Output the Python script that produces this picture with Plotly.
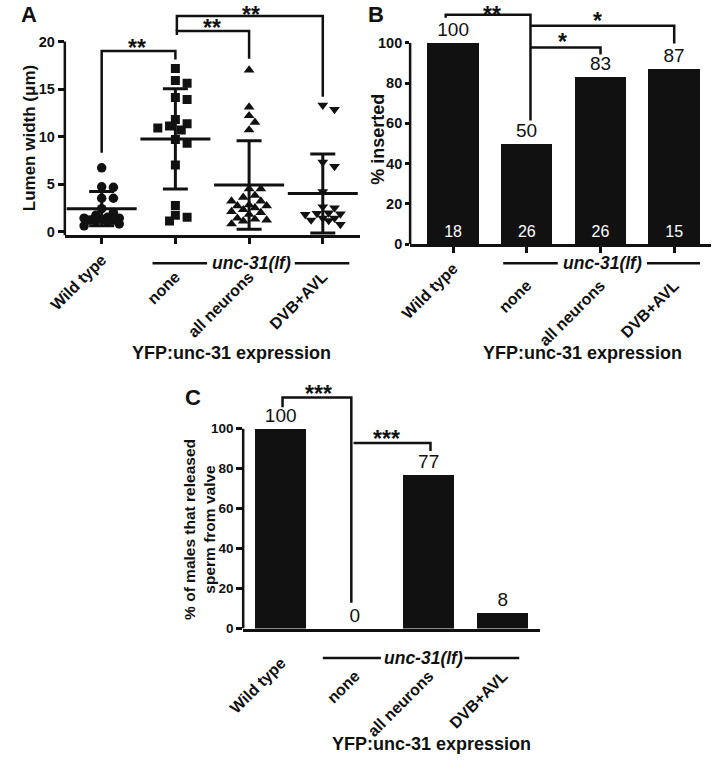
import numpy as np
import plotly.graph_objects as go

FONT = "Liberation Sans, Arial, sans-serif"
INK = "#111111"
W, H = 714, 761

# ---------------- data ----------------
groups = ["Wild type", "none", "all neurons", "DVB+AVL"]
symbols = ["circle", "square", "triangle-up", "triangle-down"]

wt_width = [6.7, 4.65, 4.7, 3.5, 3.5, 2.4, 2.0, 1.7, 1.5, 1.4, 1.4, 1.3, 1.2, 1.2, 1.1, 1.0, 0.8, 0.6]
none_width = [17.15, 15.9, 15.6, 14.1, 13.9, 11.8, 11.35, 11.1, 10.9, 10.7, 9.7, 9.3, 7.0, 2.75, 1.7, 1.5, 1.1]
alln_width = [17.0, 13.1, 12.2, 11.5, 10.7, 4.5, 4.5, 3.8, 3.6, 3.2, 3.2, 2.8, 2.7, 2.7, 2.5, 2.3,
              2.1, 2.0, 1.8, 1.4, 1.3, 1.2, 1.1, 0.8]
dvb_width = [13.3, 12.85, 7.3, 6.85, 4.2, 2.6, 2.5, 1.95, 1.9, 1.85, 1.8, 1.4, 1.4, 1.2, 1.15, 0.75]
width_mean = [2.4, 9.75, 4.9, 4.0]
width_sd = [1.8, 5.27, 4.65, 4.16]
yA_ticks = [0, 5, 10, 15, 20]

inserted_pct = [100, 50, 83, 87]
inserted_n = [18, 26, 26, 15]
yB_ticks = [0, 20, 40, 60, 80, 100]

released_pct = [100, 0, 77, 8]
released_n = [18, 13, 22, 13]
yC_ticks = [0, 20, 40, 60, 80, 100]

sig_A = ["**", "**", "**"]
sig_B = ["**", "*", "*"]
sig_C = ["***", "***"]


def P(x, y):
    return x / W, 1 - y / H


def swarm(vals, ppu, ppc, diam=7.5, step=6.0, nmax=3):
    placed, offs = [], [0.0] * len(vals)
    order = sorted(range(len(vals)), key=lambda i: -vals[i])
    cands = [0.0] + [s * j * step for j in range(1, nmax + 1) for s in (1, -1)]
    for i in order:
        y = vals[i] * ppu
        best, bestd = 0.0, -1
        for c in cands:
            d = min([((c - px) ** 2 + (y - py) ** 2) ** 0.5 for px, py in placed] or [1e9])
            if d >= diam:
                best = c
                break
            if d > bestd:
                best, bestd = c, d
        placed.append((best, y))
        offs[i] = best / ppc
    return offs


fig = go.Figure()

# ---------------- Panel A ----------------
all_width = [wt_width, none_width, alln_width, dvb_width]
for gi, vals in enumerate(all_width):
    offs = swarm(vals, 9.6, 75.5)
    fig.add_trace(go.Scatter(
        x=[gi + o for o in offs], y=vals, mode="markers", xaxis="x", yaxis="y",
        marker=dict(symbol=symbols[gi], size=9.5 if gi != 1 else 9, color=INK, line=dict(width=0)),
        showlegend=False, hoverinfo="y"))
fig.add_trace(go.Scatter(
    x=list(range(4)), y=width_mean, mode="markers", xaxis="x", yaxis="y",
    marker=dict(symbol="line-ew", size=50, line=dict(width=3, color=INK)),
    error_y=dict(type="data", array=width_sd, visible=True, thickness=3, width=12.5, color=INK),
    showlegend=False))

# ---------------- Panel B ----------------
fig.add_trace(go.Bar(
    x=list(range(4)), y=inserted_pct, xaxis="x2", yaxis="y2", width=0.7,
    marker=dict(color=INK, line=dict(width=0)),
    text=[str(v) for v in inserted_pct], textposition="outside", cliponaxis=False,
    textfont=dict(family=FONT, size=19, color=INK), showlegend=False))
fig.add_trace(go.Scatter(
    x=list(range(4)), y=[5.3] * 4, mode="text", xaxis="x2", yaxis="y2",
    text=[str(v) for v in inserted_n], textfont=dict(family=FONT, size=16, color="white"),
    showlegend=False, hoverinfo="skip"))

# ---------------- Panel C ----------------
fig.add_trace(go.Bar(
    x=list(range(4)), y=released_pct, xaxis="x3", yaxis="y3", width=0.69,
    marker=dict(color=INK, line=dict(width=0)),
    text=[str(v) for v in released_pct], textposition="outside", cliponaxis=False,
    textfont=dict(family=FONT, size=19, color=INK), showlegend=False))

# empty traces so the overlay label axes exist
for xa, ya in [("x4", "y"), ("x5", "y2"), ("x6", "y3")]:
    fig.add_trace(go.Scatter(x=[], y=[], xaxis=xa, yaxis=ya, showlegend=False, hoverinfo="skip"))

# ---------------- axes ----------------
xtickfont = dict(family=FONT, size=16, color=INK, weight="bold")


def xax(domain, anchor, rng, ticks=True):
    d = dict(domain=domain, anchor=anchor, range=rng, tickvals=list(range(4)),
             ticktext=[groups[0], "", "", ""],
             tickangle=-45, tickfont=xtickfont, showline=True, linewidth=2.5, linecolor=INK,
             showgrid=False, zeroline=False, fixedrange=True)
    if ticks:
        d.update(ticks="outside", ticklen=6, tickwidth=2.5, tickcolor=INK)
    else:
        d.update(ticks="", ticklabelstandoff=16)
    return d


def xlab(over, anchor, rng, standoff):
    return dict(overlaying=over, anchor=anchor, range=rng, tickvals=[1, 2, 3], ticktext=groups[1:],
                tickangle=-45, tickfont=xtickfont, showline=False, ticks="", side="bottom",
                ticklabelstandoff=standoff, showgrid=False, zeroline=False, fixedrange=True)


def yax(domain, anchor, rng, tv, fs=14.5, tl=6):
    return dict(domain=domain, anchor=anchor, range=rng, tickvals=tv,
                tickfont=dict(family=FONT, size=fs, color=INK, weight="bold"),
                ticks="outside", ticklen=tl, tickwidth=2.5, tickcolor=INK,
                showline=False, showgrid=False, zeroline=False, fixedrange=True)


rA, rB, rC = [-0.5, 3.5], [-0.583, 3.5], [-0.512, 3.5]
fig.update_layout(
    width=W, height=H, margin=dict(l=0, r=0, t=0, b=0),
    paper_bgcolor="white", plot_bgcolor="rgba(0,0,0,0)",
    font=dict(family=FONT, color=INK),
    bargap=0,
    xaxis=xax([49 / W, 351 / W], "y", rA),
    yaxis=yax([1 - 238 / H, 1 - 8 / H], "x", [-0.42, 23.54], yA_ticks),
    xaxis2=xax([402.7 / W, 711 / W], "y2", rB),
    yaxis2=yax([1 - 246.7 / H, 1 - 5 / H], "x2", [0, 118.9], yB_ticks, tl=4),
    xaxis3=xax([231.7 / W, 535.7 / W], "y3", rC, ticks=False),
    yaxis3=yax([1 - 635.3 / H, 1 - 390 / H], "x3", [0, 121.4], yC_ticks, fs=13.5),
    xaxis4=xlab("x", "y", rA, 28),
    xaxis5=xlab("x2", "y2", rB, 28),
    xaxis6=xlab("x3", "y3", rC, 34),
)

shapes = []
annos = []
LW = 2.5

# y axis lines (only up to top tick)
for xr, yr, lo, hi in [("x domain", "y", -0.42, yA_ticks[-1]),
                       ("x2 domain", "y2", 0, yB_ticks[-1]),
                       ("x3 domain", "y3", 0, yC_ticks[-1])]:
    shapes.append(dict(type="line", xref=xr, yref=yr, x0=0, x1=0, y0=lo, y1=hi,
                       line=dict(color=INK, width=LW)))


def bracket(xr, yr, pts):
    path = "M " + " L ".join(f"{x},{y}" for x, y in pts)
    shapes.append(dict(type="path", xref=xr, yref=yr, path=path, line=dict(color=INK, width=LW)))


def stars(xr, yr, x, y, t, size=23, top=False):
    a = dict(xref=xr, yref=yr, x=x, y=y, text=f"<b>{t}</b>", showarrow=False,
             yanchor="middle", xanchor="center", font=dict(family=FONT, size=size, color=INK))
    if top:
        a.update(yref="paper", y=1, yanchor="top")
    annos.append(a)


bracket("x", "y", [(0, 8.3), (0, 19.0), (1, 19.0), (1, 18.1)])
bracket("x", "y", [(1.02, 20.7), (1.02, 21.1), (2, 21.1), (2, 18.2)])
bracket("x", "y", [(1.02, 21.1), (1.02, 22.7), (3, 22.7), (3, 14.2)])
stars("x", "y", 0.48, 19.35, sig_A[0])
stars("x", "y", 1.5, 21.45, sig_A[1])
stars("x", "y", 2.03, 23.0, sig_A[2], top=True)

bracket("x2", "y2", [(-0.1, 112.5), (-0.1, 114.0), (1.05, 114.0), (1.05, 61.5)])
bracket("x2", "y2", [(1.05, 97.7), (2.0, 97.7), (2.0, 94.3)])
bracket("x2", "y2", [(1.05, 108.6), (3.0, 108.6), (3.0, 99.7)])
stars("x2", "y2", 0.53, 116.0, sig_B[0], top=True)
stars("x2", "y2", 1.49, 100.3, sig_B[1])
stars("x2", "y2", 1.96, 110.8, sig_B[2])

bracket("x3", "y3", [(0.02, 110.7), (0.02, 115.6), (0.95, 115.6), (0.95, 12.9)])
bracket("x3", "y3", [(0.98, 92.9), (2.02, 92.9), (2.02, 88.8)])
stars("x3", "y3", 0.5, 117.6, sig_C[0])
stars("x3", "y3", 1.42, 94.9, sig_C[1])

for i, n in enumerate(released_n):
    annos.append(dict(xref="x3", yref="y3", x=i, y=-5.4, text=str(n), showarrow=False,
                      xanchor="center", yanchor="middle", font=dict(family=FONT, size=16, color=INK)))

for xr, ypx, l0, l1, r0, r1, xc in [("x", 266, 0.69, 1.43, 2.62, 3.36, 2.03),
                                    ("x2", 266, 0.68, 1.42, 2.63, 3.35, 2.03),
                                    ("x3", 665, 0.565, 1.35, 2.48, 3.22, 1.93)]:
    yp = 1 - ypx / H
    for a, b in [(l0, l1), (r0, r1)]:
        shapes.append(dict(type="line", xref=xr, yref="paper", x0=a, x1=b, y0=yp, y1=yp,
                           line=dict(color=INK, width=LW)))
    annos.append(dict(xref=xr, yref="paper", x=xc, y=yp, text="<b><i>unc-31(lf)</i></b>",
                      showarrow=False, xanchor="center", yanchor="middle",
                      font=dict(family=FONT, size=17.5, color=INK)))

for (x, y) in [(220, 357), (579, 357), (425, 752)]:
    px, py = P(x, y)
    annos.append(dict(xref="paper", yref="paper", x=px, y=py, text="<b>YFP:unc-31 expression</b>",
                      showarrow=False, xanchor="center", yanchor="middle",
                      font=dict(family=FONT, size=18, color=INK)))

for (x, y, t, s) in [(13, 140, "Lumen width (μm)", 17),
                     (369, 141, "% inserted", 18),
                     (187, 535, "% of males that released<br>sperm from valve", 15.5)]:
    px, py = P(x, y)
    annos.append(dict(xref="paper", yref="paper", x=px, y=py, text=f"<b>{t}</b>", textangle=-90,
                      showarrow=False, xanchor="center", yanchor="middle",
                      font=dict(family=FONT, size=s, color=INK)))

for (x, y, t) in [(12, 15, "A"), (368, 15, "B"), (180, 402, "C")]:
    px, py = P(x, y)
    annos.append(dict(xref="paper", yref="paper", x=px, y=py, text=f"<b>{t}</b>",
                      showarrow=False, xanchor="center", yanchor="middle",
                      font=dict(family=FONT, size=22, color=INK)))

fig.update_layout(shapes=shapes, annotations=annos)
fig.write_html("out.html", config={"displayModeBar": False},
               post_script="document.body.style.margin='0';document.body.style.padding='0';")
